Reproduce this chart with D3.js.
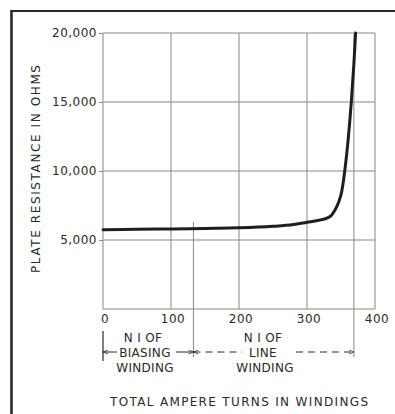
<!DOCTYPE html>
<html><head><meta charset="utf-8">
<script src="https://cdn.jsdelivr.net/npm/d3@7"></script>
<style>
html,body{margin:0;padding:0;background:#fff;}
svg{display:block;}
text{font-family:"DejaVu Sans",sans-serif;fill:#2a2a26;}
</style></head>
<body>
<svg id="c" width="395" height="414"></svg>
<script>
// Data
const ampereTurns = [0, 50, 100, 150, 200, 250, 280, 300, 320, 330, 336, 341, 346, 351, 355.5, 360, 365, 369, 371.5];
const plateOhms  = [5750, 5770, 5800, 5840, 5880, 5990, 6120, 6280, 6460, 6600, 6800, 7150, 7680, 8500, 10000, 12000, 14900, 17800, 20000];
const xTicks = [0, 100, 200, 300, 400];
const yTicks = [5000, 10000, 15000, 20000];
const biasEnd = 133;   // end of biasing winding N I
const lineEnd = 369;   // end of line winding N I
const yLabel = "PLATE RESISTANCE IN OHMS";
const xLabel = "TOTAL AMPERE TURNS IN WINDINGS";
const bandLabels = [["N I OF", "BIASING", "WINDING"], ["N I OF", "LINE", "WINDING"]];

const svg = d3.select("#c");
const ink = "#2a2a26", grid = "#8a8a80";
const x = d3.scaleLinear().domain([0, 400]).range([103, 375]);
const y = d3.scaleLinear().domain([0, 20000]).range([309, 33]);

// outer frame (left + top rules)
svg.append("line").attr("x1", 11.5).attr("x2", 11.5).attr("y1", 10).attr("y2", 414)
  .attr("stroke", ink).attr("stroke-width", 2.6);
svg.append("line").attr("x1", 10.5).attr("x2", 395).attr("y1", 11).attr("y2", 11)
  .attr("stroke", ink).attr("stroke-width", 2.2);

// grid
const g = svg.append("g");
g.selectAll(".vg").data(xTicks).join("line")
  .attr("x1", d => x(d)).attr("x2", d => x(d)).attr("y1", y(20000)).attr("y2", y(0))
  .attr("stroke", grid).attr("stroke-width", 1);
g.selectAll(".hg").data([0].concat(yTicks)).join("line")
  .attr("x1", x(0)).attr("x2", x(400)).attr("y1", d => y(d)).attr("y2", d => y(d))
  .attr("stroke", grid).attr("stroke-width", 1);

// winding boundary lines
g.append("line").attr("x1", x(biasEnd)).attr("x2", x(biasEnd)).attr("y1", y(6300)).attr("y2", 357)
  .attr("stroke", grid).attr("stroke-width", 1);
g.append("line").attr("x1", x(lineEnd)).attr("x2", x(lineEnd)).attr("y1", y(20000)).attr("y2", 357)
  .attr("stroke", grid).attr("stroke-width", 1);
g.append("line").attr("x1", x(0)).attr("x2", x(0)).attr("y1", 331).attr("y2", 361)
  .attr("stroke", ink).attr("stroke-width", 1.2);

// axes
const yAxis = svg.append("g").attr("transform", `translate(${x(0)},0)`)
  .call(d3.axisLeft(y).tickValues(yTicks).tickFormat(d3.format(",")).tickSize(4).tickPadding(2));
yAxis.select(".domain").remove();
yAxis.selectAll("line").attr("stroke", grid);
yAxis.selectAll("text").attr("font-size", 12).attr("letter-spacing", 0.5)
  .attr("font-family", "DejaVu Sans").attr("fill", ink);

const xAxis = svg.append("g").attr("transform", `translate(1.5,${y(0)})`)
  .call(d3.axisBottom(x).tickValues(xTicks).tickFormat(d3.format("d")).tickSize(0).tickPadding(5));
xAxis.select(".domain").remove();
xAxis.selectAll("text").attr("font-size", 12).attr("letter-spacing", 0.5)
  .attr("font-family", "DejaVu Sans").attr("fill", ink);

// curve
const pts = ampereTurns.map((a, i) => [a, plateOhms[i]]);
svg.append("path").datum(pts)
  .attr("d", d3.line().x(d => x(d[0])).y(d => y(d[1])).curve(d3.curveMonotoneX))
  .attr("fill", "none").attr("stroke", "#1e1e1a").attr("stroke-width", 3)
  .attr("stroke-linecap", "round");

// band annotations
const arrowY = 352;
const defs = svg.append("defs");
defs.append("marker").attr("id", "ah").attr("viewBox", "0 0 10 10").attr("refX", 10).attr("refY", 5)
  .attr("markerWidth", 6).attr("markerHeight", 5).attr("orient", "auto-start-reverse")
  .append("path").attr("d", "M0,1 L10,5 L0,9").attr("fill", "none").attr("stroke", ink).attr("stroke-width", 1.5);

function seg(x1, x2, dashed, startArrow, endArrow) {
  const l = svg.append("line").attr("x1", x1).attr("x2", x2).attr("y1", arrowY).attr("y2", arrowY)
    .attr("stroke", ink).attr("stroke-width", 1);
  if (dashed) l.attr("stroke-dasharray", "7,5");
  if (startArrow) l.attr("marker-start", "url(#ah)");
  if (endArrow) l.attr("marker-end", "url(#ah)");
}
const bx0 = x(0), bx1 = x(biasEnd), bx2 = x(lineEnd);
seg(bx0, 117, false, true, false);
seg(176, bx1, false, false, true);
seg(bx1, 242, true, true, false);
seg(296, bx2, true, false, true);

const centers = [[143, 145, 145], [263, 263, 265]];
const baselines = [342, 357, 371.5];
bandLabels.forEach((lines, k) => {
  lines.forEach((t, j) => {
    svg.append("text").attr("x", centers[k][j]).attr("y", baselines[j])
      .attr("text-anchor", "middle").attr("font-size", 12).attr("letter-spacing", 0.3)
      .attr("fill", ink).text(t);
  });
});

// axis titles
svg.append("text").attr("x", 239).attr("y", 406).attr("text-anchor", "middle")
  .attr("font-size", 12).attr("textLength", 258).attr("lengthAdjust", "spacing")
  .attr("fill", ink).text(xLabel);
svg.append("text").attr("transform", "translate(40,169) rotate(-90)").attr("text-anchor", "middle")
  .attr("font-size", 12).attr("textLength", 208).attr("lengthAdjust", "spacing")
  .attr("fill", ink).text(yLabel);
</script>
</body></html>
